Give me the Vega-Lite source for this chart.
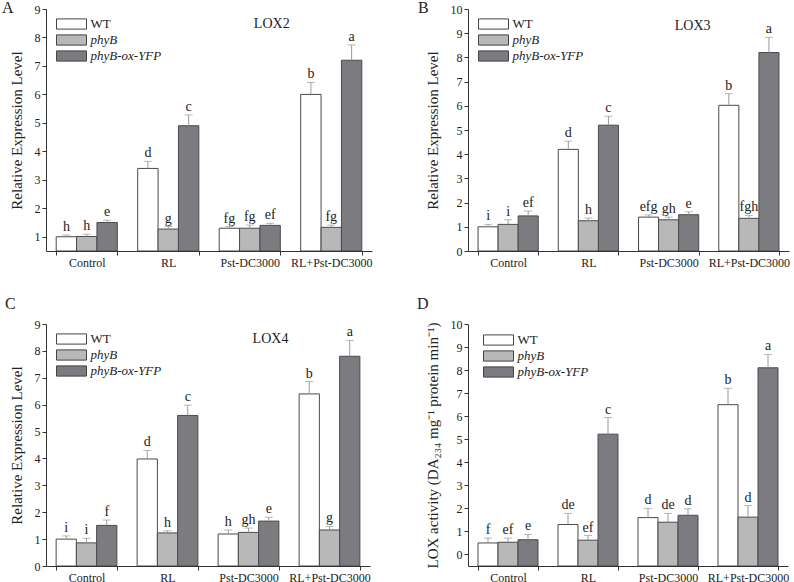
{
  "$schema": "https://vega.github.io/schema/vega-lite/v6.json",
  "padding": {"left": 2, "top": 0, "right": 4, "bottom": 0},
  "background": "white",
  "datasets": {
    "bars": [
      {"panel": "A", "treatment": "Control", "genotype": "WT", "value": 1.0, "upper": 1.06, "letter": "h"},
      {"panel": "A", "treatment": "Control", "genotype": "phyB", "value": 1.01, "upper": 1.09, "letter": "h"},
      {"panel": "A", "treatment": "Control", "genotype": "phyB-ox-YFP", "value": 1.5, "upper": 1.58, "letter": "e"},
      {"panel": "A", "treatment": "RL", "genotype": "WT", "value": 3.4, "upper": 3.65, "letter": "d"},
      {"panel": "A", "treatment": "RL", "genotype": "phyB", "value": 1.27, "upper": 1.36, "letter": "g"},
      {"panel": "A", "treatment": "RL", "genotype": "phyB-ox-YFP", "value": 4.9, "upper": 5.28, "letter": "c"},
      {"panel": "A", "treatment": "Pst-DC3000", "genotype": "WT", "value": 1.3, "upper": 1.36, "letter": "fg"},
      {"panel": "A", "treatment": "Pst-DC3000", "genotype": "phyB", "value": 1.3, "upper": 1.41, "letter": "fg"},
      {"panel": "A", "treatment": "Pst-DC3000", "genotype": "phyB-ox-YFP", "value": 1.4, "upper": 1.47, "letter": "ef"},
      {"panel": "A", "treatment": "RL+Pst-DC3000", "genotype": "WT", "value": 6.0, "upper": 6.42, "letter": "b"},
      {"panel": "A", "treatment": "RL+Pst-DC3000", "genotype": "phyB", "value": 1.33, "upper": 1.41, "letter": "fg"},
      {"panel": "A", "treatment": "RL+Pst-DC3000", "genotype": "phyB-ox-YFP", "value": 7.2, "upper": 7.74, "letter": "a"},

      {"panel": "B", "treatment": "Control", "genotype": "WT", "value": 1.0, "upper": 1.1, "letter": "i"},
      {"panel": "B", "treatment": "Control", "genotype": "phyB", "value": 1.1, "upper": 1.29, "letter": "i"},
      {"panel": "B", "treatment": "Control", "genotype": "phyB-ox-YFP", "value": 1.45, "upper": 1.65, "letter": "ef"},
      {"panel": "B", "treatment": "RL", "genotype": "WT", "value": 4.2, "upper": 4.54, "letter": "d"},
      {"panel": "B", "treatment": "RL", "genotype": "phyB", "value": 1.25, "upper": 1.36, "letter": "h"},
      {"panel": "B", "treatment": "RL", "genotype": "phyB-ox-YFP", "value": 5.2, "upper": 5.57, "letter": "c"},
      {"panel": "B", "treatment": "Pst-DC3000", "genotype": "WT", "value": 1.4, "upper": 1.49, "letter": "efg"},
      {"panel": "B", "treatment": "Pst-DC3000", "genotype": "phyB", "value": 1.29, "upper": 1.4, "letter": "gh"},
      {"panel": "B", "treatment": "Pst-DC3000", "genotype": "phyB-ox-YFP", "value": 1.5, "upper": 1.62, "letter": "e"},
      {"panel": "B", "treatment": "RL+Pst-DC3000", "genotype": "WT", "value": 6.02, "upper": 6.5, "letter": "b"},
      {"panel": "B", "treatment": "RL+Pst-DC3000", "genotype": "phyB", "value": 1.35, "upper": 1.47, "letter": "fgh"},
      {"panel": "B", "treatment": "RL+Pst-DC3000", "genotype": "phyB-ox-YFP", "value": 8.2, "upper": 8.83, "letter": "a"},

      {"panel": "C", "treatment": "Control", "genotype": "WT", "value": 1.0, "upper": 1.12, "letter": "i"},
      {"panel": "C", "treatment": "Control", "genotype": "phyB", "value": 0.86, "upper": 1.03, "letter": "i"},
      {"panel": "C", "treatment": "Control", "genotype": "phyB-ox-YFP", "value": 1.51, "upper": 1.71, "letter": "f"},
      {"panel": "C", "treatment": "RL", "genotype": "WT", "value": 3.98, "upper": 4.3, "letter": "d"},
      {"panel": "C", "treatment": "RL", "genotype": "phyB", "value": 1.23, "upper": 1.31, "letter": "h"},
      {"panel": "C", "treatment": "RL", "genotype": "phyB-ox-YFP", "value": 5.6, "upper": 5.98, "letter": "c"},
      {"panel": "C", "treatment": "Pst-DC3000", "genotype": "WT", "value": 1.19, "upper": 1.34, "letter": "h"},
      {"panel": "C", "treatment": "Pst-DC3000", "genotype": "phyB", "value": 1.25, "upper": 1.41, "letter": "gh"},
      {"panel": "C", "treatment": "Pst-DC3000", "genotype": "phyB-ox-YFP", "value": 1.67, "upper": 1.81, "letter": "e"},
      {"panel": "C", "treatment": "RL+Pst-DC3000", "genotype": "WT", "value": 6.4, "upper": 6.86, "letter": "b"},
      {"panel": "C", "treatment": "RL+Pst-DC3000", "genotype": "phyB", "value": 1.34, "upper": 1.47, "letter": "g"},
      {"panel": "C", "treatment": "RL+Pst-DC3000", "genotype": "phyB-ox-YFP", "value": 7.8, "upper": 8.39, "letter": "a"},

      {"panel": "D", "treatment": "Control", "genotype": "WT", "value": 0.5, "upper": 0.71, "letter": "f"},
      {"panel": "D", "treatment": "Control", "genotype": "phyB", "value": 0.53, "upper": 0.71, "letter": "ef"},
      {"panel": "D", "treatment": "Control", "genotype": "phyB-ox-YFP", "value": 0.64, "upper": 0.87, "letter": "e"},
      {"panel": "D", "treatment": "RL", "genotype": "WT", "value": 1.3, "upper": 1.78, "letter": "de"},
      {"panel": "D", "treatment": "RL", "genotype": "phyB", "value": 0.62, "upper": 0.82, "letter": "ef"},
      {"panel": "D", "treatment": "RL", "genotype": "phyB-ox-YFP", "value": 5.22, "upper": 5.94, "letter": "c"},
      {"panel": "D", "treatment": "Pst-DC3000", "genotype": "WT", "value": 1.6, "upper": 2.0, "letter": "d"},
      {"panel": "D", "treatment": "Pst-DC3000", "genotype": "phyB", "value": 1.4, "upper": 1.78, "letter": "de"},
      {"panel": "D", "treatment": "Pst-DC3000", "genotype": "phyB-ox-YFP", "value": 1.7, "upper": 1.98, "letter": "d"},
      {"panel": "D", "treatment": "RL+Pst-DC3000", "genotype": "WT", "value": 6.5, "upper": 7.21, "letter": "b"},
      {"panel": "D", "treatment": "RL+Pst-DC3000", "genotype": "phyB", "value": 1.62, "upper": 2.12, "letter": "d"},
      {"panel": "D", "treatment": "RL+Pst-DC3000", "genotype": "phyB-ox-YFP", "value": 8.1, "upper": 8.68, "letter": "a"}
    ],
    "labelA": [{"label": "LOX2"}],
    "labelB": [{"label": "LOX3"}],
    "labelC": [{"label": "LOX4"}]
  },
  "columns": 2,
  "spacing": {"row": 28, "column": 45},
  "resolve": {"scale": {"x": "independent", "y": "independent", "fill": "independent", "xOffset": "independent"}, "legend": {"fill": "independent"}},
  "concat": [
    {
      "title": {"text": "A", "dx": -44, "offset": -13},
      "width": 326, "height": 242,
      "data": {"name": "bars"},
      "transform": [{"filter": "datum.panel === 'A'"}],
      "encoding": {
        "x": {"field": "treatment", "type": "nominal", "sort": ["Control", "RL", "Pst-DC3000", "RL+Pst-DC3000"], "scale": {"paddingInner": 0.25, "paddingOuter": 0.125}, "axis": {"title": null}}
      },
      "layer": [
        {
          "mark": {"type": "bar", "stroke": "#4a4a4a", "strokeWidth": 1, "clip": true},
          "encoding": {
            "xOffset": {"field": "genotype", "type": "nominal", "sort": ["WT", "phyB", "phyB-ox-YFP"], "scale": {"paddingInner": 0, "paddingOuter": 0}},
            "y": {"field": "value", "type": "quantitative", "scale": {"domain": [0.5, 9], "nice": false, "zero": false}, "axis": {"values": [1, 2, 3, 4, 5, 6, 7, 8, 9], "labelOverlap": false, "title": "Relative Expression Level"}},
            "y2": {"datum": 0.5},
            "fill": {"field": "genotype", "type": "nominal", "sort": ["WT", "phyB", "phyB-ox-YFP"], "scale": {"domain": ["WT", "phyB", "phyB-ox-YFP"], "range": ["#ffffff", "#b8b8b8", "#7c7c80"]}, "legend": {"orient": "none", "legendX": 17.5, "legendY": 7, "rowPadding": 0, "encode": {"labels": {"update": {"fontStyle": {"signal": "datum.label === 'WT' ? 'normal' : 'italic'"}}}}}}
          }
        },
        {
          "mark": {"type": "rule", "color": "#9a9a9a", "strokeWidth": 1},
          "encoding": {
            "xOffset": {"field": "genotype", "type": "nominal", "sort": ["WT", "phyB", "phyB-ox-YFP"]},
            "y": {"field": "value", "type": "quantitative", "axis": {"values": [1, 2, 3, 4, 5, 6, 7, 8, 9], "labelOverlap": false, "title": "Relative Expression Level"}},
            "y2": {"field": "upper"}
          }
        },
        {
          "mark": {"type": "tick", "color": "#9a9a9a", "size": 8, "thickness": 1},
          "encoding": {
            "xOffset": {"field": "genotype", "type": "nominal", "sort": ["WT", "phyB", "phyB-ox-YFP"]},
            "y": {"field": "upper", "type": "quantitative", "axis": {"values": [1, 2, 3, 4, 5, 6, 7, 8, 9], "labelOverlap": false, "title": "Relative Expression Level"}}
          }
        },
        {
          "mark": {"type": "text", "baseline": "bottom", "dy": -1, "fontSize": 14, "color": "#222"},
          "encoding": {
            "xOffset": {"field": "genotype", "type": "nominal", "sort": ["WT", "phyB", "phyB-ox-YFP"]},
            "y": {"field": "upper", "type": "quantitative", "axis": {"values": [1, 2, 3, 4, 5, 6, 7, 8, 9], "labelOverlap": false, "title": "Relative Expression Level"}},
            "text": {"field": "letter"}
          }
        },
        {
          "data": {"name": "labelA"},
          "mark": {"type": "text", "fontSize": 14, "dx": 22, "baseline": "middle", "color": "#222"},
          "encoding": {
            "x": {"datum": "Pst-DC3000"},
            "y": {"datum": 8.47, "axis": {"values": [1, 2, 3, 4, 5, 6, 7, 8, 9], "labelOverlap": false, "title": "Relative Expression Level"}},
            "text": {"field": "label"}
          }
        }
      ]
    },
    {
      "title": {"text": "B", "dx": -50, "offset": -13},
      "width": 321, "height": 242,
      "data": {"name": "bars"},
      "transform": [{"filter": "datum.panel === 'B'"}],
      "encoding": {
        "x": {"field": "treatment", "type": "nominal", "sort": ["Control", "RL", "Pst-DC3000", "RL+Pst-DC3000"], "scale": {"paddingInner": 0.25, "paddingOuter": 0.125}, "axis": {"title": null}}
      },
      "layer": [
        {
          "mark": {"type": "bar", "stroke": "#4a4a4a", "strokeWidth": 1, "clip": true},
          "encoding": {
            "xOffset": {"field": "genotype", "type": "nominal", "sort": ["WT", "phyB", "phyB-ox-YFP"], "scale": {"paddingInner": 0, "paddingOuter": 0}},
            "y": {"field": "value", "type": "quantitative", "scale": {"domain": [0, 10], "nice": false}, "axis": {"values": [0, 1, 2, 3, 4, 5, 6, 7, 8, 9, 10], "labelOverlap": false, "title": "Relative Expression Level"}},
            "y2": {"datum": 0},
            "fill": {"field": "genotype", "type": "nominal", "sort": ["WT", "phyB", "phyB-ox-YFP"], "scale": {"domain": ["WT", "phyB", "phyB-ox-YFP"], "range": ["#ffffff", "#b8b8b8", "#7c7c80"]}, "legend": {"orient": "none", "legendX": 17.5, "legendY": 7, "rowPadding": 0, "encode": {"labels": {"update": {"fontStyle": {"signal": "datum.label === 'WT' ? 'normal' : 'italic'"}}}}}}
          }
        },
        {
          "mark": {"type": "rule", "color": "#9a9a9a", "strokeWidth": 1},
          "encoding": {
            "xOffset": {"field": "genotype", "type": "nominal", "sort": ["WT", "phyB", "phyB-ox-YFP"]},
            "y": {"field": "value", "type": "quantitative", "axis": {"values": [0, 1, 2, 3, 4, 5, 6, 7, 8, 9, 10], "labelOverlap": false, "title": "Relative Expression Level"}},
            "y2": {"field": "upper"}
          }
        },
        {
          "mark": {"type": "tick", "color": "#9a9a9a", "size": 8, "thickness": 1},
          "encoding": {
            "xOffset": {"field": "genotype", "type": "nominal", "sort": ["WT", "phyB", "phyB-ox-YFP"]},
            "y": {"field": "upper", "type": "quantitative", "axis": {"values": [0, 1, 2, 3, 4, 5, 6, 7, 8, 9, 10], "labelOverlap": false, "title": "Relative Expression Level"}}
          }
        },
        {
          "mark": {"type": "text", "baseline": "bottom", "dy": -1, "fontSize": 14, "color": "#222"},
          "encoding": {
            "xOffset": {"field": "genotype", "type": "nominal", "sort": ["WT", "phyB", "phyB-ox-YFP"]},
            "y": {"field": "upper", "type": "quantitative", "axis": {"values": [0, 1, 2, 3, 4, 5, 6, 7, 8, 9, 10], "labelOverlap": false, "title": "Relative Expression Level"}},
            "text": {"field": "letter"}
          }
        },
        {
          "data": {"name": "labelB"},
          "mark": {"type": "text", "fontSize": 14, "dx": 24, "baseline": "middle", "color": "#222"},
          "encoding": {
            "x": {"datum": "Pst-DC3000"},
            "y": {"datum": 9.3, "axis": {"values": [0, 1, 2, 3, 4, 5, 6, 7, 8, 9, 10], "labelOverlap": false, "title": "Relative Expression Level"}},
            "text": {"field": "label"}
          }
        }
      ]
    },
    {
      "title": {"text": "C", "dx": -41, "offset": 6},
      "width": 324, "height": 242,
      "data": {"name": "bars"},
      "transform": [{"filter": "datum.panel === 'C'"}],
      "encoding": {
        "x": {"field": "treatment", "type": "nominal", "sort": ["Control", "RL", "Pst-DC3000", "RL+Pst-DC3000"], "scale": {"paddingInner": 0.25, "paddingOuter": 0.125}, "axis": {"title": null}}
      },
      "layer": [
        {
          "mark": {"type": "bar", "stroke": "#4a4a4a", "strokeWidth": 1, "clip": true},
          "encoding": {
            "xOffset": {"field": "genotype", "type": "nominal", "sort": ["WT", "phyB", "phyB-ox-YFP"], "scale": {"paddingInner": 0, "paddingOuter": 0}},
            "y": {"field": "value", "type": "quantitative", "scale": {"domain": [0, 9], "nice": false}, "axis": {"values": [0, 1, 2, 3, 4, 5, 6, 7, 8, 9], "labelOverlap": false, "title": "Relative Expression Level"}},
            "y2": {"datum": 0},
            "fill": {"field": "genotype", "type": "nominal", "sort": ["WT", "phyB", "phyB-ox-YFP"], "scale": {"domain": ["WT", "phyB", "phyB-ox-YFP"], "range": ["#ffffff", "#b8b8b8", "#7c7c80"]}, "legend": {"orient": "none", "legendX": 17.5, "legendY": 7, "rowPadding": 0, "encode": {"labels": {"update": {"fontStyle": {"signal": "datum.label === 'WT' ? 'normal' : 'italic'"}}}}}}
          }
        },
        {
          "mark": {"type": "rule", "color": "#9a9a9a", "strokeWidth": 1},
          "encoding": {
            "xOffset": {"field": "genotype", "type": "nominal", "sort": ["WT", "phyB", "phyB-ox-YFP"]},
            "y": {"field": "value", "type": "quantitative", "axis": {"values": [0, 1, 2, 3, 4, 5, 6, 7, 8, 9], "labelOverlap": false, "title": "Relative Expression Level"}},
            "y2": {"field": "upper"}
          }
        },
        {
          "mark": {"type": "tick", "color": "#9a9a9a", "size": 8, "thickness": 1},
          "encoding": {
            "xOffset": {"field": "genotype", "type": "nominal", "sort": ["WT", "phyB", "phyB-ox-YFP"]},
            "y": {"field": "upper", "type": "quantitative", "axis": {"values": [0, 1, 2, 3, 4, 5, 6, 7, 8, 9], "labelOverlap": false, "title": "Relative Expression Level"}}
          }
        },
        {
          "mark": {"type": "text", "baseline": "bottom", "dy": -1, "fontSize": 14, "color": "#222"},
          "encoding": {
            "xOffset": {"field": "genotype", "type": "nominal", "sort": ["WT", "phyB", "phyB-ox-YFP"]},
            "y": {"field": "upper", "type": "quantitative", "axis": {"values": [0, 1, 2, 3, 4, 5, 6, 7, 8, 9], "labelOverlap": false, "title": "Relative Expression Level"}},
            "text": {"field": "letter"}
          }
        },
        {
          "data": {"name": "labelC"},
          "mark": {"type": "text", "fontSize": 14, "dx": 22, "baseline": "middle", "color": "#222"},
          "encoding": {
            "x": {"datum": "Pst-DC3000"},
            "y": {"datum": 8.44, "axis": {"values": [0, 1, 2, 3, 4, 5, 6, 7, 8, 9], "labelOverlap": false, "title": "Relative Expression Level"}},
            "text": {"field": "label"}
          }
        }
      ]
    },
    {
      "title": {"text": "D", "dx": -51, "offset": 6},
      "width": 320, "height": 242,
      "data": {"name": "bars"},
      "transform": [{"filter": "datum.panel === 'D'"}],
      "encoding": {
        "x": {"field": "treatment", "type": "nominal", "sort": ["Control", "RL", "Pst-DC3000", "RL+Pst-DC3000"], "scale": {"paddingInner": 0.25, "paddingOuter": 0.125}, "axis": {"title": null}}
      },
      "layer": [
        {
          "mark": {"type": "bar", "stroke": "#4a4a4a", "strokeWidth": 1, "clip": true},
          "encoding": {
            "xOffset": {"field": "genotype", "type": "nominal", "sort": ["WT", "phyB", "phyB-ox-YFP"], "scale": {"paddingInner": 0, "paddingOuter": 0}},
            "y": {"field": "value", "type": "quantitative", "scale": {"domain": [-0.5, 10], "nice": false, "zero": false}, "axis": {"values": [0, 1, 2, 3, 4, 5, 6, 7, 8, 9, 10], "labelOverlap": false, "title": "LOX activity (DA₂₃₄ mg⁻¹ protein min⁻¹)"}},
            "y2": {"datum": -0.5},
            "fill": {"field": "genotype", "type": "nominal", "sort": ["WT", "phyB", "phyB-ox-YFP"], "scale": {"domain": ["WT", "phyB", "phyB-ox-YFP"], "range": ["#ffffff", "#b8b8b8", "#7c7c80"]}, "legend": {"orient": "none", "legendX": 22.5, "legendY": 8, "rowPadding": 0, "encode": {"labels": {"update": {"fontStyle": {"signal": "datum.label === 'WT' ? 'normal' : 'italic'"}}}}}}
          }
        },
        {
          "mark": {"type": "rule", "color": "#9a9a9a", "strokeWidth": 1},
          "encoding": {
            "xOffset": {"field": "genotype", "type": "nominal", "sort": ["WT", "phyB", "phyB-ox-YFP"]},
            "y": {"field": "value", "type": "quantitative", "axis": {"values": [0, 1, 2, 3, 4, 5, 6, 7, 8, 9, 10], "labelOverlap": false, "title": "LOX activity (DA₂₃₄ mg⁻¹ protein min⁻¹)"}},
            "y2": {"field": "upper"}
          }
        },
        {
          "mark": {"type": "tick", "color": "#9a9a9a", "size": 8, "thickness": 1},
          "encoding": {
            "xOffset": {"field": "genotype", "type": "nominal", "sort": ["WT", "phyB", "phyB-ox-YFP"]},
            "y": {"field": "upper", "type": "quantitative", "axis": {"values": [0, 1, 2, 3, 4, 5, 6, 7, 8, 9, 10], "labelOverlap": false, "title": "LOX activity (DA₂₃₄ mg⁻¹ protein min⁻¹)"}}
          }
        },
        {
          "mark": {"type": "text", "baseline": "bottom", "dy": -1, "fontSize": 14, "color": "#222"},
          "encoding": {
            "xOffset": {"field": "genotype", "type": "nominal", "sort": ["WT", "phyB", "phyB-ox-YFP"]},
            "y": {"field": "upper", "type": "quantitative", "axis": {"values": [0, 1, 2, 3, 4, 5, 6, 7, 8, 9, 10], "labelOverlap": false, "title": "LOX activity (DA₂₃₄ mg⁻¹ protein min⁻¹)"}},
            "text": {"field": "letter"}
          }
        }
      ]
    }
  ],
  "config": {
    "font": "Liberation Serif",
    "view": {"stroke": null},
    "title": {"font": "Liberation Serif", "fontSize": 16, "fontWeight": "normal", "anchor": "start", "frame": "group", "color": "#222", "baseline": "alphabetic"},
    "axis": {"domainColor": "#333", "tickColor": "#333", "labelColor": "#222", "titleColor": "#222", "labelFont": "Liberation Serif", "titleFont": "Liberation Serif", "labelFontSize": 12, "titleFontSize": 15, "titleFontWeight": "normal", "grid": false, "tickSize": 4, "labelPadding": 2, "titlePadding": 10, "labelOverlap": false},
    "axisX": {"labelAngle": 0, "tickBand": "extent", "labelFontSize": 12},
    "axisY": {"labelFontSize": 12},
    "legend": {
      "title": null,
      "labelFont": "Liberation Serif",
      "labelFontSize": 13,
      "labelColor": "#222",
      "symbolType": "M-2,-0.68H2V0.68H-2Z",
      "symbolSize": 225,
      "symbolStrokeColor": "#444",
      "symbolStrokeWidth": 1,
      "labelOffset": 11,
      "padding": 0
    }
  }
}
